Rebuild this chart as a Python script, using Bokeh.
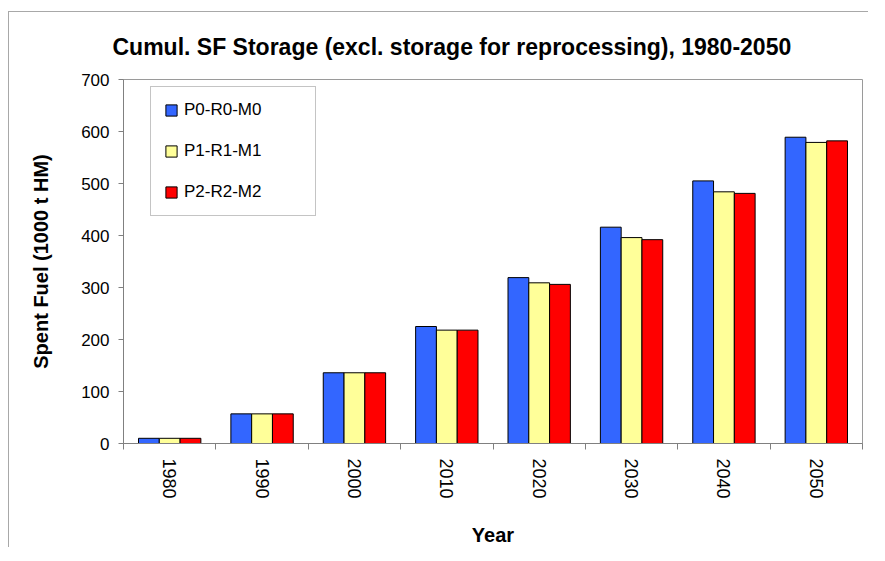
from bokeh.plotting import figure
from bokeh.models import Range1d, FixedTicker, Legend
from bokeh.transform import dodge
from bokeh.models import ColumnDataSource
from bokeh.embed import file_html
from bokeh.resources import INLINE

years = [1980, 1990, 2000, 2010, 2020, 2030, 2040, 2050]
p0_r0_m0 = [10, 57, 136, 225, 319, 416, 505, 589]
p1_r1_m1 = [10, 57, 136, 218, 309, 396, 484, 579]
p2_r2_m2 = [10, 57, 136, 218, 306, 392, 481, 582]
series_names = ["P0-R0-M0", "P1-R1-M1", "P2-R2-M2"]
series_colors = ["#3366FF", "#FFFF99", "#FF0000"]
y_ticks = [0, 100, 200, 300, 400, 500, 600, 700]

FONT = "Liberation Sans"

source = ColumnDataSource(dict(year=years, s0=p0_r0_m0, s1=p1_r1_m1, s2=p2_r2_m2))

p = figure(width=860, height=536, output_backend="svg", toolbar_location=None,
           x_range=Range1d(years[0] - 5, years[-1] + 5),
           y_range=Range1d(y_ticks[0], y_ticks[-1]),
           min_border_left=114, min_border_right=7,
           min_border_top=66, min_border_bottom=102,
           title="Cumul. SF Storage (excl. storage for reprocessing), 1980-2050")
p.styles = {"margin-left": "8px", "margin-top": "11px",
            "border-left": "1px solid #a8a8a8", "border-top": "1px solid #a8a8a8"}

p.title.text_font = FONT
p.title.text_font_size = "23px"
p.title.text_font_style = "bold"
p.title.text_color = "#000000"
p.title.align = "left"
p.title.offset = -11
p.title.standoff = 39

p.outline_line_color = "#9a9a9a"
p.outline_line_width = 1
p.xgrid.visible = False
p.ygrid.visible = False
p.background_fill_color = "white"

bar_w = 2.25
offsets = [-bar_w, 0, bar_w]
fields = ["s0", "s1", "s2"]
renderers = []
for f, off, col, name in zip(fields, offsets, series_colors, series_names):
    r = p.vbar(x=dodge("year", off, range=p.x_range), top=f, width=bar_w, bottom=0,
               source=source, fill_color=col, line_color="#000000", line_width=1)
    renderers.append((name, [r]))

legend = Legend(items=renderers, location=(27, 227))
legend.label_text_font = FONT
legend.label_text_font_size = "17px"
legend.label_text_color = "#000000"
legend.glyph_width = 14
legend.glyph_height = 14
legend.label_height = 18
legend.label_width = 118
legend.label_standoff = 6
legend.spacing = 21
legend.padding = 13
legend.border_line_color = "#8a8a8a"
legend.border_line_width = 1
legend.background_fill_alpha = 1
legend.margin = 0
p.add_layout(legend, "center")

# x axis
xa = p.xaxis[0]
minor = [y - 5 for y in years] + [years[-1] + 5]
xa.ticker = FixedTicker(ticks=years, minor_ticks=minor)
xa.major_label_overrides = {y: str(y) for y in years}
xa.major_label_orientation = "vertical"
xa.major_label_text_font = FONT
xa.major_label_text_font_size = "18px"
xa.major_label_text_color = "#000000"
xa.major_tick_out = 0
xa.major_tick_in = 0
xa.minor_tick_out = 6
xa.minor_tick_in = 0
xa.minor_tick_line_color = "#808080"
xa.axis_line_color = "#808080"
xa.major_label_standoff = 9
xa.axis_label = "Year"
xa.axis_label_text_font = FONT
xa.axis_label_text_font_size = "20px"
xa.axis_label_text_font_style = "bold"
xa.axis_label_text_color = "#000000"
xa.axis_label_standoff = 22

# y axis
ya = p.yaxis[0]
ya.ticker = FixedTicker(ticks=y_ticks)
ya.major_label_text_font = FONT
ya.major_label_text_font_size = "17px"
ya.major_label_text_color = "#000000"
ya.major_tick_out = 5
ya.major_tick_in = 0
ya.major_tick_line_color = "#808080"
ya.minor_tick_line_color = None
ya.axis_line_color = "#808080"
ya.major_label_standoff = 9
ya.axis_label = "Spent Fuel (1000 t HM)"
ya.axis_label_text_font = FONT
ya.axis_label_text_font_size = "20px"
ya.axis_label_text_font_style = "bold"
ya.axis_label_text_color = "#000000"
ya.axis_label_standoff = 26

open("out.html", "w").write(file_html(p, INLINE))
